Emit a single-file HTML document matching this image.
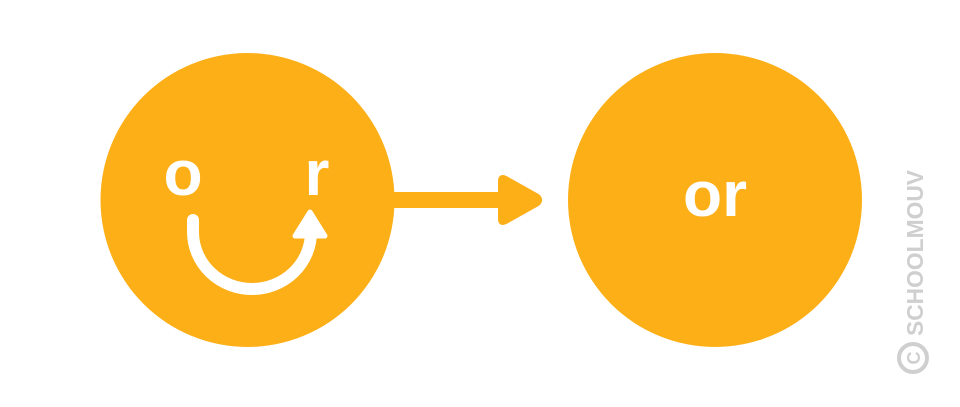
<!DOCTYPE html>
<html><head><meta charset="utf-8"><style>body{margin:0;background:#fff}svg{display:block}</style></head>
<body>
<svg width="960" height="407" viewBox="0 0 960 407" xmlns="http://www.w3.org/2000/svg">
<circle cx="247.5" cy="200" r="147" fill="#fdaf17"/>
<circle cx="715" cy="200" r="147" fill="#fdaf17"/>
<rect x="393" y="192" width="112" height="16" fill="#fdaf17"/>
<path d="M500 181 Q500 175 506 178 L538 196 Q542 200 538 204 L506 222 Q500 225 500 219 Z" fill="#fdaf17" stroke="#fdaf17" stroke-width="4" stroke-linejoin="round"/>
<text x="183" y="195" font-family="Liberation Sans, sans-serif" font-weight="bold" font-size="64" fill="#fff" text-anchor="middle">o</text>
<text x="317" y="195" font-family="Liberation Sans, sans-serif" font-weight="bold" font-size="64" fill="#fff" text-anchor="middle">r</text>
<path d="M193 220 L193 232 A59 57 0 0 0 311 232 L311 232" fill="none" stroke="#fff" stroke-width="12" stroke-linecap="round"/>
<path d="M310 212 L325 236 L295 236 Z" fill="#fff" stroke="#fff" stroke-width="5" stroke-linejoin="round"/>
<text x="715" y="216" font-family="Liberation Sans, sans-serif" font-weight="bold" font-size="64" fill="#fff" text-anchor="middle">or</text>
<text transform="translate(923,336) rotate(-90)" font-family="Liberation Sans, sans-serif" font-weight="bold" font-size="23" fill="#cfcfcf" textLength="166" lengthAdjust="spacingAndGlyphs">SCHOOLMOUV</text>
<circle cx="913" cy="358" r="14" fill="none" stroke="#cfcfcf" stroke-width="4"/>
<text transform="translate(920,358) rotate(-90)" font-family="Liberation Sans, sans-serif" font-weight="bold" font-size="18" fill="#cfcfcf" text-anchor="middle">C</text>
</svg>
</body></html>
